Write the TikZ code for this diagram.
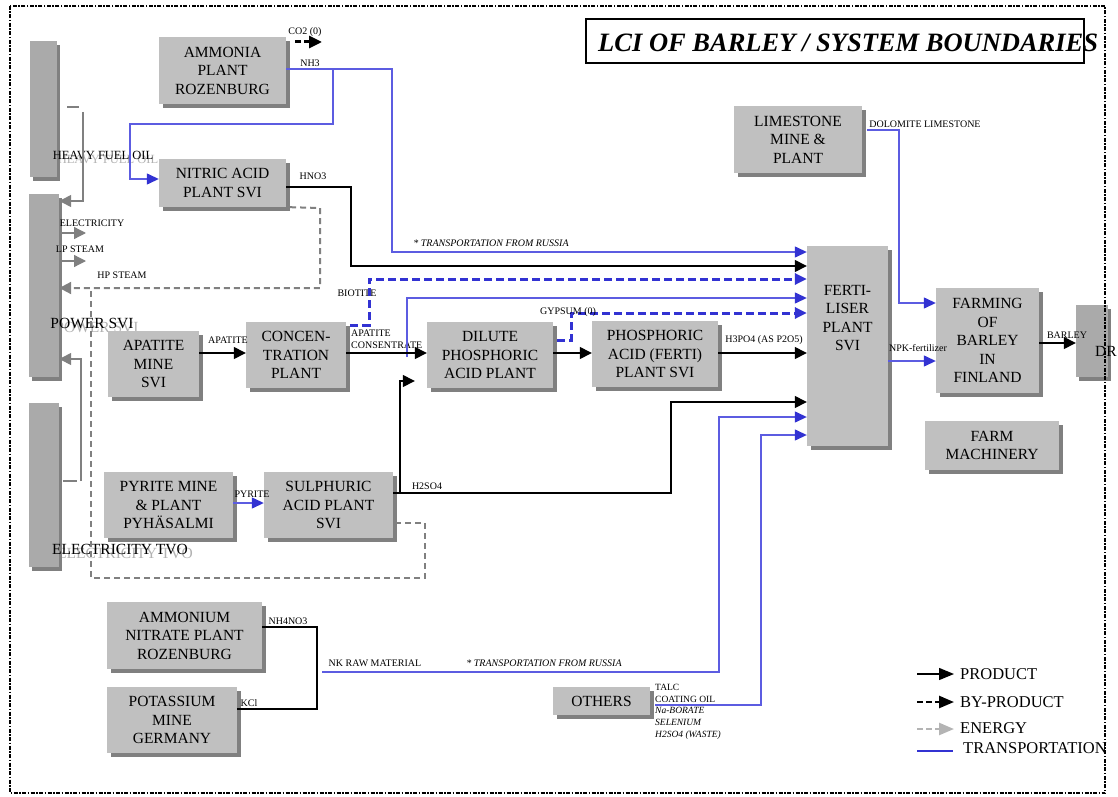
\documentclass[tikz,border=0pt]{standalone}
\usepackage{fontspec}
\setmainfont{Liberation Serif}
\usetikzlibrary{arrows.meta,shadows,calc}
\definecolor{boxgray}{RGB}{192,192,192}
\definecolor{bargray}{RGB}{170,170,170}
\definecolor{shgray}{RGB}{128,128,128}
\definecolor{engray}{RGB}{128,128,128}
\definecolor{ghostgray}{RGB}{178,178,178}
\definecolor{tblue}{RGB}{92,92,225}
\definecolor{hblue}{RGB}{50,50,210}
\definecolor{lggray}{RGB}{180,180,180}
\newcommand{\boxfont}{\fontsize{15.5}{18.5}\selectfont}
\newcommand{\lgfont}{\fontsize{16.5}{19}\selectfont}
\newcommand{\lblfont}{\fontsize{10}{12}\selectfont}
\begin{document}
\begin{tikzpicture}[x=1pt,y=-1pt,
  box/.style={fill=boxgray, inner sep=0pt, align=center, font=\boxfont,
    drop shadow={shadow xshift=4pt, shadow yshift=-4pt, fill=shgray, opacity=1}},
  bar/.style={fill=bargray, inner sep=0pt,
    drop shadow={shadow xshift=3pt, shadow yshift=-4pt, fill=shgray, opacity=1}},
  lbl/.style={font=\lblfont, inner sep=0pt},
  big/.style={font=\boxfont, inner sep=0pt},
  lg/.style={font=\lgfont, inner sep=0pt},
  prod/.style={black, line width=1.4pt},
  prodarr/.style={prod, -{Triangle[length=12pt,width=12pt]}},
  trans/.style={tblue, line width=1.3pt},
  transarr/.style={trans, -{Triangle[length=12pt,width=11pt,color=hblue,fill=hblue]}},
  byblue/.style={hblue, line width=3pt, dash pattern=on 8pt off 4pt, -{Triangle[length=12pt,width=11pt]}},
  byblack/.style={black, line width=3pt, dash pattern=on 6pt off 3pt, -{Triangle[length=13pt,width=12pt]}},
  energy/.style={engray, line width=2pt, dash pattern=on 6pt off 4pt},
  enarr/.style={-{Triangle[length=12pt,width=12pt]}},
  enthin/.style={engray, line width=1.3pt},
  enthinarr/.style={enthin, -{Triangle[length=12pt,width=12pt]}},
  frame/.style={black, line width=2pt, dash pattern=on 4pt off 1.5pt on 1.5pt off 1.5pt}
]
\useasboundingbox (0,0) rectangle (1118,797);

% ghost texts
\node[font=\fontsize{12.5}{14}\selectfont, text=ghostgray, inner sep=0] (hfoG) at (108,159) {HEAVY FUEL OIL};
\node[big, text=ghostgray] (powG) at (97,327) {POWER SVI};
\node[big, text=ghostgray] (tvoG) at (125,553) {ELECTRICITY TVO};

% bars
\node[bar, minimum width=27pt, minimum height=136pt] (b1) at (43.5,109) {};
\node[bar, minimum width=30pt, minimum height=183pt] (b2) at (44,285.5) {};
\node[bar, minimum width=30pt, minimum height=164pt] (b3) at (44,485) {};

\node[font=\fontsize{12.5}{14}\selectfont, inner sep=0] (hfo) at (103,155) {HEAVY FUEL OIL};
\node[big] (pow) at (92,323) {POWER SVI};
\node[big] (tvo) at (120,549) {ELECTRICITY TVO};

% boxes
\node[box, minimum width=127pt, minimum height=67pt] (amm) at (222.5,70.5) {AMMONIA\\PLANT\\ROZENBURG};
\node[box, minimum width=127pt, minimum height=48pt] (nit) at (222.5,183) {NITRIC ACID\\PLANT SVI};
\node[box, minimum width=91pt, minimum height=66pt] (apm) at (153.5,364) {APATITE\\MINE\\SVI};
\node[box, minimum width=100pt, minimum height=66pt] (con) at (296,355) {CONCEN-\\TRATION\\PLANT};
\node[box, minimum width=126pt, minimum height=66pt] (dil) at (490,355) {DILUTE\\PHOSPHORIC\\ACID PLANT};
\node[box, minimum width=126pt, minimum height=66pt] (pho) at (655,354) {PHOSPHORIC\\ACID (FERTI)\\PLANT SVI};
\node[box, minimum width=129pt, minimum height=66pt] (pyr) at (168.5,505) {PYRITE MINE\\\& PLANT\\PYHÄSALMI};
\node[box, minimum width=129pt, minimum height=66pt] (sul) at (328.5,505) {SULPHURIC\\ACID PLANT\\SVI};
\node[box, minimum width=128pt, minimum height=67pt] (lim) at (798,139.5) {LIMESTONE\\MINE \&\\PLANT};
\node[box, minimum width=81pt, minimum height=200pt] (fert) at (847.5,346) {};
\node[font=\boxfont, align=center, inner sep=0] (fertT) at (847.5,318) {FERTI-\\LISER\\PLANT\\SVI};
\node[box, minimum width=103pt, minimum height=105pt] (farm) at (987.5,340.5) {FARMING\\OF\\BARLEY\\IN\\FINLAND};
\node[box, minimum width=134pt, minimum height=49pt] (mach) at (992,445.5) {FARM\\MACHINERY};
\node[bar, minimum width=32pt, minimum height=72pt] (dr) at (1092,341) {};
\node[font=\boxfont, anchor=base west, inner sep=0] (drT) at (1095,356) {DR};
\node[box, minimum width=155pt, minimum height=67pt] (amn) at (184.5,635.5) {AMMONIUM\\NITRATE PLANT\\ROZENBURG};
\node[box, minimum width=130pt, minimum height=66pt] (pot) at (172,720) {POTASSIUM\\MINE\\GERMANY};
\node[box, minimum width=97pt, minimum height=28pt] (oth) at (601.5,701) {OTHERS};

% title
\node[draw=black, line width=1.2pt, minimum width=498pt, minimum height=44pt, inner sep=0, fill=white] (tbox) at (835,41) {};
\node[anchor=base west, font=\fontsize{26.5}{30}\selectfont\bfseries\itshape, inner sep=0] (title) at (598,52) {LCI OF BARLEY / SYSTEM BOUNDARIES};

% labels
\node[lbl] (lco2) at (305,32) {CO2 (0)};
\node[lbl] (lnh3) at (310,63) {NH3};
\node[lbl] (lhno3) at (313,176) {HNO3};
\node[lbl] (lel) at (92,223) {ELECTRICITY};
\node[lbl] (llp) at (80,249) {LP STEAM};
\node[lbl] (lhp) at (122,275) {HP STEAM};
\node[lbl] (lbio) at (357,293) {BIOTITE};
\node[lbl] (lap) at (228,340) {APATITE};
\node[lbl, anchor=north west, align=left] (lapc) at (351,330) {APATITE\\CONSENTRATE};
\node[lbl] (lh3) at (764,340) {H3PO4 (AS P2O5)};
\node[lbl, font=\lblfont\itshape] (ltr1) at (491,243) {* TRANSPORTATION FROM RUSSIA};
\node[lbl] (lpy) at (252,494) {PYRITE};
\node[lbl] (lh2) at (427,486) {H2SO4};
\node[lbl] (ldol) at (925,124) {DOLOMITE LIMESTONE};
\node[lbl] (lnpk) at (918,348) {NPK-fertilizer};
\node[lbl] (lbar) at (1067,335) {BARLEY};
\node[lbl] (lnh4) at (288,621) {NH4NO3};
\node[lbl] (lkcl) at (249,703) {KCl};
\node[lbl] (lnk) at (375,663) {NK RAW MATERIAL};
\node[lbl, font=\lblfont\itshape] (ltr2) at (544,663) {* TRANSPORTATION FROM RUSSIA};
\node[lbl, font=\fontsize{9.5}{11.7}\selectfont, anchor=north west, align=left] (loth) at (655,684) {TALC\\COATING OIL\\\textit{Na-BORATE}\\\textit{SELENIUM}\\\textit{H2SO4 (WASTE)}};

% CO2
\coordinate (co2e) at (322,42);
\draw[byblack] ([xshift=9pt]amm.east |- co2e) -- (co2e);

% NH3 transport
\coordinate (n1) at (392,69); \coordinate (n2) at (392,252);
\draw[transarr] (amm.east |- n1) -- (n1) -- (n2) -- (n2 -| fert.west);
\coordinate (nb1) at (333,124); \coordinate (nb2) at (130,124); \coordinate (nb3) at (130,179);
\draw[transarr] (nb1 |- n1) -- (nb1) -- (nb2) -- (nb3) -- (nb3 -| nit.west);

% HNO3
\coordinate (h1) at (351,187); \coordinate (h2) at (351,266);
\draw[prodarr] (nit.east |- h1) -- (h1) -- (h2) -- (h2 -| fert.west);

% biotite
\coordinate (bi1) at (369,325); \coordinate (bi2) at (369,279);
\draw[byblue] ([xshift=4pt]con.east |- bi1) -- (bi1) -- (bi2) -- (bi2 -| fert.west);

% apatite transport
\coordinate (a1) at (407,357); \coordinate (a2) at (407,298);
\draw[transarr] (a1) -- (a2) -- (a2 -| fert.west);

% gypsum
\coordinate (g1) at (571,340); \coordinate (g2) at (571,313);
\draw[byblue] ([xshift=4pt]dil.east |- g1) -- (g1) -- (g2) -- (g2 -| fert.west);
\node[lbl] (lgyp) at (568,312) {GYPSUM (0)};

% product chain
\coordinate (ap) at (199,353);
\draw[prodarr] (apm.east |- ap) -- (ap -| con.west);
\draw[prodarr] (con.east |- ap) -- (ap -| dil.west);
\draw[prodarr] (dil.east |- ap) -- (ap -| pho.west);
\draw[prodarr] (pho.east |- ap) -- (ap -| fert.west);

% H2SO4
\coordinate (s1) at (400,493); \coordinate (s2) at (400,381);
\coordinate (s3) at (671,493); \coordinate (s4) at (671,402);
\draw[prodarr] (sul.east |- s1) -- (s3) -- (s4) -- (s4 -| fert.west);
\draw[prodarr] (s1) -- (s2) -- ([xshift=-12pt]dil.west |- s2);

% NK raw material
\coordinate (k1) at (317,627); \coordinate (k2) at (317,709); \coordinate (k3) at (322,672);
\draw[prod, line width=1.2pt] (amn.east |- k1) -- (k1) -- (k2) -- (pot.east |- k2);
\coordinate (t1) at (719,672); \coordinate (t2) at (719,417);
\draw[transarr] (k3) -- (t1) -- (t2) -- (t2 -| fert.west);

% others
\coordinate (o1) at (761,705); \coordinate (o2) at (761,435);
\draw[transarr] ([xshift=5pt]oth.east |- o1) -- (o1) -- (o2) -- (o2 -| fert.west);

% dolomite
\coordinate (d1) at (899,130); \coordinate (d2) at (899,303);
\draw[transarr] ([xshift=5pt]lim.east |- d1) -- (d1) -- (d2) -- (d2 -| farm.west);

% NPK
\coordinate (np) at (888,361);
\draw[transarr] (fert.east |- np) -- (np -| farm.west);

% barley
\coordinate (br) at (1036,343);
\draw[prodarr] (farm.east |- br) -- (br -| dr.west);

% pyrite
\coordinate (py) at (233,503);
\draw[transarr] (pyr.east |- py) -- (py -| sul.west);

% energy
\coordinate (hf1) at (83,107); \coordinate (hf2) at (83,201);
\draw[enthin] ([xshift=10pt]b1.east |- hf1) -- ([xshift=-4pt]hf1);
\draw[enthinarr] ([yshift=-5pt]hf1) -- (hf2) -- (hf2 -| b2.east);
\coordinate (el) at (86,233); \coordinate (lp) at (86,261);
\draw[enthinarr] (b2.east |- el) -- (el);
\draw[enthinarr] (b2.east |- lp) -- (lp);
\coordinate (hp1) at (320,208); \coordinate (hp2) at (320,288);
\draw[energy, enarr] ([xshift=4pt]nit.south east) -- (hp1) -- (hp2) -- (hp2 -| b2.east);
\coordinate (sa1) at (425,523); \coordinate (sa2) at (425,578);
\coordinate (sa3) at (91,578); \coordinate (sa4) at (91,288);
\draw[energy] ([xshift=2pt]sul.east |- sa1) -- (sa1) -- (sa2) -- (sa3) -- (sa4);
\coordinate (tv1) at (81,481); \coordinate (tv2) at (81,359);
\draw[enthin] ([xshift=4pt]b3.east |- tv1) -- ([xshift=-4pt]tv1);
\draw[enthinarr] (tv1) -- (tv2) -- (tv2 -| b2.east);

% legend
\node[lg, anchor=west] (lgP) at (960,674) {PRODUCT};
\node[lg, anchor=west] (lgB) at (960,702) {BY-PRODUCT};
\node[lg, anchor=west] (lgE) at (960,728) {ENERGY};
\node[lg, anchor=west] (lgT) at (963,748) {TRANSPORTATION};
\coordinate (lgP0) at (917,674); \coordinate (lgB0) at (917,702);
\coordinate (lgE0) at (917,729); \coordinate (lgT0) at (917,751);
\draw[prod, -{Triangle[length=15pt,width=12pt]}] (lgP0) -- ([xshift=-6pt]lgP.west);
\draw[black, line width=2.5pt, dash pattern=on 6pt off 3pt, -{Triangle[length=15pt,width=12pt]}] (lgB0) -- ([xshift=-6pt]lgB.west);
\draw[lggray, line width=2.5pt, dash pattern=on 6pt off 3pt, -{Triangle[length=15pt,width=12pt]}] (lgE0) -- ([xshift=-6pt]lgE.west |- lgE0);
\draw[hblue, line width=1.3pt] (lgT0) -- ([xshift=-10pt]lgT.west |- lgT0);

% frame
\draw[frame] (10,6) rectangle (1105,793);
\end{tikzpicture}
\end{document}
